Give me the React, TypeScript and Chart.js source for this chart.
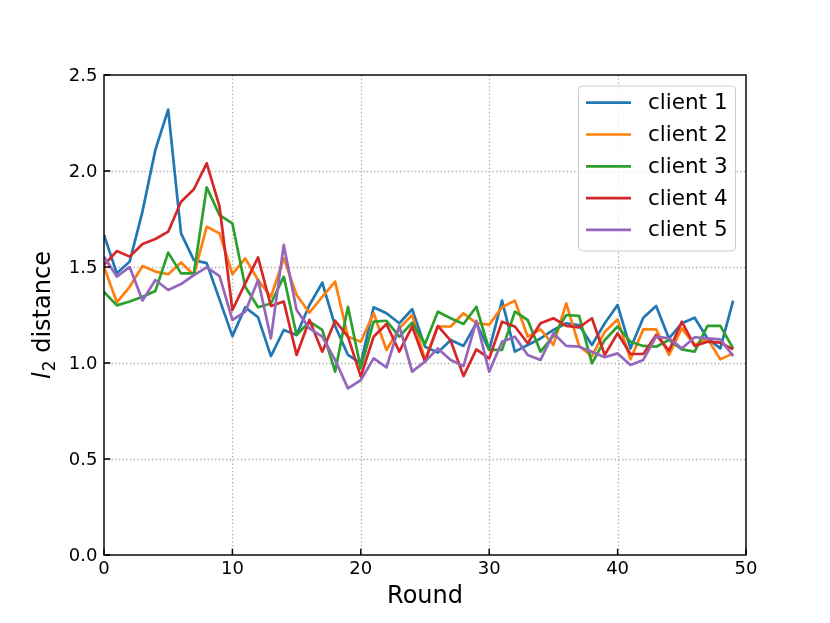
import { useEffect, useRef } from 'react';
import { Chart, registerables } from 'chart.js';

Chart.register(...registerables);

const rounds = [
  0, 1, 2, 3, 4, 5, 6, 7, 8, 9, 10, 11, 12, 13, 14, 15, 16, 17, 18, 19, 20, 21, 22, 23, 24,
  25, 26, 27, 28, 29, 30, 31, 32, 33, 34, 35, 36, 37, 38, 39, 40, 41, 42, 43, 44, 45, 46, 47, 48, 49,
];

const client1 = [
  1.667, 1.467, 1.528, 1.79, 2.11, 2.32, 1.675, 1.536, 1.52, 1.33, 1.14, 1.29, 1.238, 1.036, 1.172,
  1.146, 1.302, 1.418, 1.193, 1.042, 0.998, 1.29, 1.259, 1.207, 1.28, 1.085, 1.054, 1.12, 1.089, 1.207,
  1.068, 1.325, 1.059, 1.094, 1.128, 1.172, 1.207, 1.198, 1.094, 1.207, 1.302, 1.076, 1.236, 1.297,
  1.128, 1.207, 1.236, 1.128, 1.076, 1.325,
];
const client2 = [
  1.5, 1.316, 1.397, 1.505, 1.476, 1.462, 1.523, 1.458, 1.71, 1.675, 1.463, 1.545, 1.432, 1.345, 1.545,
  1.354, 1.262, 1.345, 1.424, 1.137, 1.111, 1.259, 1.068, 1.18, 1.25, 1.016, 1.19, 1.19, 1.259, 1.207,
  1.2, 1.29, 1.325, 1.137, 1.175, 1.094, 1.311, 1.089, 1.036, 1.163, 1.227, 1.019, 1.175, 1.175, 1.042,
  1.18, 1.094, 1.128, 1.019, 1.05,
];
const client3 = [
  1.37, 1.3, 1.32, 1.345, 1.375, 1.575, 1.467, 1.467, 1.915, 1.77, 1.727, 1.397, 1.29, 1.31, 1.45,
  1.146, 1.215, 1.172, 0.955, 1.293, 0.972, 1.215, 1.22, 1.137, 1.21, 1.099, 1.267, 1.233, 1.203, 1.293,
  1.068, 1.068, 1.267, 1.224, 1.059, 1.141, 1.25, 1.245, 0.998, 1.12, 1.19, 1.111, 1.089, 1.085, 1.12,
  1.071, 1.059, 1.193, 1.193, 1.076,
];
const client4 = [
  1.51, 1.583, 1.554, 1.62, 1.646, 1.684, 1.84, 1.905, 2.04, 1.814, 1.276, 1.415, 1.55, 1.297, 1.32,
  1.042, 1.224, 1.059, 1.22, 1.137, 0.929, 1.137, 1.203, 1.059, 1.19, 1.007, 1.193, 1.116, 0.932, 1.071,
  1.024, 1.215, 1.19, 1.103, 1.207, 1.233, 1.193, 1.186, 1.233, 1.042, 1.155, 1.047, 1.047, 1.146, 1.064,
  1.215, 1.089, 1.111, 1.106, 1.071,
];
const client5 = [
  1.554, 1.45, 1.5, 1.325, 1.432, 1.38, 1.411, 1.458, 1.498, 1.453, 1.224, 1.267, 1.432, 1.128, 1.615,
  1.276, 1.18, 1.137, 1.016, 0.868, 0.911, 1.024, 0.977, 1.193, 0.955, 1.007, 1.076, 1.016, 0.984, 1.22,
  0.955, 1.111, 1.137, 1.042, 1.016, 1.155, 1.089, 1.085, 1.059, 1.03, 1.05, 0.99, 1.016, 1.137, 1.128,
  1.076, 1.134, 1.128, 1.123, 1.036,
];

const seriesValues = [client1, client2, client3, client4, client5];
const seriesLabels = ['client 1', 'client 2', 'client 3', 'client 4', 'client 5'];
const seriesColors = ['#1f77b4', '#ff7f0e', '#2ca02c', '#d62728', '#9467bd'];

const xTickValues = [0, 10, 20, 30, 40, 50];
const xTickLabels = ['0', '10', '20', '30', '40', '50'];
const yTickValues = [0, 0.5, 1.0, 1.5, 2.0, 2.5];
const yTickLabels = ['0.0', '0.5', '1.0', '1.5', '2.0', '2.5'];
const xTitle = 'Round';
const yTitleVar = 'l';
const yTitleSub = '2';
const yTitleRest = ' distance';

const FONT = '"DejaVu Sans", "Liberation Sans", sans-serif';

const decorPlugin = {
  id: 'decor',
  beforeDatasetsDraw(chart: any) {
    const { ctx, chartArea, scales } = chart;
    const { left, right, top, bottom } = chartArea;
    ctx.save();
    ctx.strokeStyle = '#b0b0b0';
    ctx.lineWidth = 1.3;
    ctx.setLineDash([1.4, 2.3]);
    for (const v of xTickValues) {
      const px = Math.round(scales.x.getPixelForValue(v)) + 0.5;
      if (px <= left + 2 || px >= right - 2) continue;
      ctx.beginPath();
      ctx.moveTo(px, top);
      ctx.lineTo(px, bottom);
      ctx.stroke();
    }
    for (const v of yTickValues) {
      const py = Math.round(scales.y.getPixelForValue(v)) + 0.5;
      if (py <= top + 2 || py >= bottom - 2) continue;
      ctx.beginPath();
      ctx.moveTo(left, py);
      ctx.lineTo(right, py);
      ctx.stroke();
    }
    ctx.restore();
  },
  afterDatasetsDraw(chart: any) {
    const { ctx, chartArea, scales } = chart;
    const { left, right, top, bottom } = chartArea;
    ctx.save();
    // spines
    ctx.setLineDash([]);
    ctx.strokeStyle = '#000';
    ctx.lineWidth = 1.44;
    ctx.strokeRect(left, top, right - left, bottom - top);
    // inward ticks
    const tl = 6.3;
    ctx.beginPath();
    for (const v of xTickValues) {
      const px = scales.x.getPixelForValue(v);
      ctx.moveTo(px, bottom);
      ctx.lineTo(px, bottom - tl);
    }
    for (const v of yTickValues) {
      const py = scales.y.getPixelForValue(v);
      ctx.moveTo(left, py);
      ctx.lineTo(left + tl, py);
    }
    ctx.stroke();
    // tick labels
    ctx.fillStyle = '#000';
    ctx.font = `18px ${FONT}`;
    ctx.textAlign = 'center';
    ctx.textBaseline = 'alphabetic';
    xTickValues.forEach((v, i) => {
      ctx.fillText(xTickLabels[i], scales.x.getPixelForValue(v), bottom + 19);
    });
    ctx.textAlign = 'right';
    ctx.textBaseline = 'middle';
    yTickValues.forEach((v, i) => {
      ctx.fillText(yTickLabels[i], left - 6.5, scales.y.getPixelForValue(v) + 1);
    });
    // x title
    ctx.font = `24px ${FONT}`;
    ctx.textAlign = 'center';
    ctx.textBaseline = 'alphabetic';
    ctx.fillText(xTitle, (left + right) / 2, 603);
    // y title (rotated, with italic l and subscript 2)
    ctx.save();
    ctx.translate(50, (top + bottom) / 2);
    ctx.rotate(-Math.PI / 2);
    const fMain = `24px ${FONT}`;
    const fIt = `oblique 24px ${FONT}`;
    const fSub = `17px ${FONT}`;
    ctx.font = fIt;
    const w1 = ctx.measureText(yTitleVar).width;
    ctx.font = fSub;
    const w2 = ctx.measureText(yTitleSub).width;
    ctx.font = fMain;
    const w3 = ctx.measureText(yTitleRest).width;
    const total = w1 + w2 + w3 + 1;
    let cx = -total / 2;
    ctx.textAlign = 'left';
    ctx.textBaseline = 'alphabetic';
    ctx.font = fIt;
    ctx.fillText(yTitleVar, cx, 0);
    cx += w1 + 1;
    ctx.font = fSub;
    ctx.fillText(yTitleSub, cx, 5);
    cx += w2;
    ctx.font = fMain;
    ctx.fillText(yTitleRest, cx, 0);
    ctx.restore();
    // legend
    const bx = 578.5, by = 86, bw = 157, bh = 165, r = 4;
    ctx.beginPath();
    ctx.moveTo(bx + r, by);
    ctx.arcTo(bx + bw, by, bx + bw, by + bh, r);
    ctx.arcTo(bx + bw, by + bh, bx, by + bh, r);
    ctx.arcTo(bx, by + bh, bx, by, r);
    ctx.arcTo(bx, by, bx + bw, by, r);
    ctx.closePath();
    ctx.fillStyle = 'rgba(255,255,255,0.8)';
    ctx.fill();
    ctx.strokeStyle = '#cccccc';
    ctx.lineWidth = 1;
    ctx.stroke();
    ctx.font = `21.5px ${FONT}`;
    ctx.textAlign = 'left';
    ctx.textBaseline = 'middle';
    chart.data.datasets.forEach((ds: any, i: number) => {
      const ly = 102.7 + i * 31.8;
      ctx.strokeStyle = ds.borderColor;
      ctx.lineWidth = 2.7;
      ctx.beginPath();
      ctx.moveTo(586, ly);
      ctx.lineTo(631, ly);
      ctx.stroke();
      ctx.fillStyle = '#000';
      ctx.fillText(ds.label, 648, ly + 1);
    });
    ctx.restore();
  },
};

export default function App() {
  const canvasRef = useRef<HTMLCanvasElement | null>(null);

  useEffect(() => {
    document.body.style.margin = '0';
    const canvas = canvasRef.current;
    if (!canvas) return;
    const chart = new Chart(canvas, {
      type: 'line',
      data: {
        datasets: seriesValues.map((vals, i) => ({
          label: seriesLabels[i],
          data: rounds.map((r, j) => ({ x: r, y: vals[j] })),
          borderColor: seriesColors[i],
          backgroundColor: seriesColors[i],
          borderWidth: 2.7,
          pointRadius: 0,
          tension: 0,
          fill: false,
          borderJoinStyle: 'round' as const,
          order: seriesValues.length - 1 - i,
        })),
      },
      options: {
        animation: false,
        responsive: true,
        maintainAspectRatio: false,
        devicePixelRatio: window.devicePixelRatio || 1,
        layout: { padding: { left: 0, right: 84, top: 75, bottom: 0 } },
        plugins: {
          legend: { display: false },
          tooltip: { enabled: false },
          title: { display: false },
        },
        scales: {
          x: {
            type: 'linear',
            min: 0,
            max: 50,
            grid: { display: false },
            border: { display: false },
            ticks: { display: false, stepSize: 10 },
            afterFit: (scale: any) => {
              scale.height = 68;
            },
          },
          y: {
            type: 'linear',
            min: 0,
            max: 2.5,
            grid: { display: false },
            border: { display: false },
            ticks: { display: false, stepSize: 0.5 },
            afterFit: (scale: any) => {
              scale.width = 104;
            },
          },
        },
      },
      plugins: [decorPlugin],
    });
    return () => chart.destroy();
  }, []);

  return (
    <div style={{ position: 'absolute', left: 0, top: 0, width: 830, height: 623 }}>
      <canvas ref={canvasRef} />
    </div>
  );
}
